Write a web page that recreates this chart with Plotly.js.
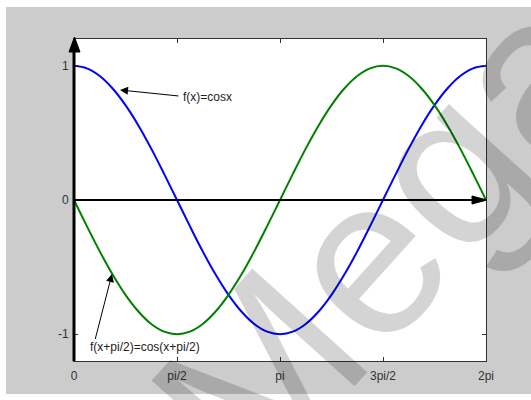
<!DOCTYPE html>
<html>
<head>
<meta charset="utf-8">
<script src="https://cdn.plot.ly/plotly-3.0.1.min.js"></script>
<style>html,body{margin:0;padding:0;background:#fff;}#chart{width:531px;height:400px;}</style>
</head>
<body>
<div id="chart"></div>
<script>
// sample positions (radians), read along the x axis
var xValues = [0, 0.196, 0.393, 0.589, 0.785, 0.982, 1.178, 1.374, 1.571, 1.767, 1.963, 2.160, 2.356, 2.553, 2.749, 2.945, 3.142,
  3.338, 3.534, 3.731, 3.927, 4.123, 4.320, 4.516, 4.712, 4.909, 5.105, 5.301, 5.498, 5.694, 5.890, 6.087, 6.283];
// blue curve f(x)=cosx
var cosValues = [1, 0.981, 0.924, 0.831, 0.707, 0.556, 0.383, 0.195, 0, -0.195, -0.383, -0.556, -0.707, -0.831, -0.924, -0.981, -1,
  -0.981, -0.924, -0.831, -0.707, -0.556, -0.383, -0.195, 0, 0.195, 0.383, 0.556, 0.707, 0.831, 0.924, 0.981, 1];
// green curve f(x+pi/2)=cos(x+pi/2)
var shiftedValues = [0, -0.195, -0.383, -0.556, -0.707, -0.831, -0.924, -0.981, -1, -0.981, -0.924, -0.831, -0.707, -0.556, -0.383, -0.195, 0,
  0.195, 0.383, 0.556, 0.707, 0.831, 0.924, 0.981, 1, 0.981, 0.924, 0.831, 0.707, 0.556, 0.383, 0.195, 0];
var xTickVals = [0, 1.5708, 3.1416, 4.7124, 6.2832];
var xTickText = ['0', 'pi/2', 'pi', '3pi/2', '2pi'];
var yTickVals = [-1, 0, 1];
var yTickText = ['-1', '0', '1'];
var labelCos = 'f(x)=cosx';
var labelShift = 'f(x+pi/2)=cos(x+pi/2)';
var watermark = 'Mega';

var W = 531, H = 400, L = 74, R = 45, T = 39, B = 39;
var pw = W - L - R, ph = H - T - B;
function px(x) { return (x - L) / pw; }
function py(y) { return (H - B - y) / ph; }

var traces = [
  {x: xValues, y: cosValues, type: 'scatter', mode: 'lines', line: {color: '#0000ff', width: 2, shape: 'spline'}, hoverinfo: 'skip'},
  {x: xValues, y: shiftedValues, type: 'scatter', mode: 'lines', line: {color: '#008000', width: 2, shape: 'spline'}, hoverinfo: 'skip'}
];

var shapes = [
  // white edges of the figure
  {type: 'rect', xref: 'paper', yref: 'paper', x0: px(0), x1: px(W), y0: py(7), y1: py(0), fillcolor: '#ffffff', line: {width: 0}, layer: 'above'},
  {type: 'rect', xref: 'paper', yref: 'paper', x0: px(0), x1: px(6), y0: py(H), y1: py(0), fillcolor: '#ffffff', line: {width: 0}, layer: 'above'},
  {type: 'rect', xref: 'paper', yref: 'paper', x0: px(0), x1: px(W), y0: py(H), y1: py(394), fillcolor: '#ffffff', line: {width: 0}, layer: 'above'},
  // y axis arrow
  {type: 'line', xref: 'paper', yref: 'paper', x0: 0, x1: 0, y0: 0, y1: py(50), line: {color: '#000', width: 3}, layer: 'above'},
  {type: 'path', xref: 'paper', yref: 'paper', path: 'M' + px(69) + ',' + py(52) + ' L' + px(74.5) + ',' + py(37) + ' L' + px(80) + ',' + py(52) + ' Z', fillcolor: '#000', line: {color: '#000', width: 1}, layer: 'above'},
  // x axis arrow
  {type: 'line', xref: 'paper', yref: 'paper', x0: 0, x1: px(474), y0: 0.5, y1: 0.5, line: {color: '#000', width: 2}, layer: 'above'},
  {type: 'path', xref: 'paper', yref: 'paper', path: 'M' + px(472) + ',' + py(196) + ' L' + px(487) + ',' + py(200) + ' L' + px(472) + ',' + py(204) + ' Z', fillcolor: '#000', line: {color: '#000', width: 1}, layer: 'above'}
];

var txtFont = {family: 'Liberation Sans, Arial, sans-serif', size: 12, color: '#222'};
var annotations = [
  {x: 0.7015, y: 0.82, ax: 1.601, ay: 0.775, axref: 'x', ayref: 'y', xref: 'x', yref: 'y', text: ' ', font: {size: 1},
   showarrow: true, arrowhead: 2, arrowsize: 1.6, arrowwidth: 1, arrowcolor: '#000', standoff: 0, borderpad: 0},
  {x: 1.632, y: 0.768, xref: 'x', yref: 'y', text: labelCos, showarrow: false, xanchor: 'left', yanchor: 'middle', font: txtFont},
  {x: 0.5795, y: -0.5515, ax: 0.3203, ay: -1.0435, axref: 'x', ayref: 'y', xref: 'x', yref: 'y', text: ' ', font: {size: 1},
   showarrow: true, arrowhead: 2, arrowsize: 1.6, arrowwidth: 1, arrowcolor: '#000', standoff: 0, borderpad: 0},
  {x: 0.2135, y: -1.0956, xref: 'x', yref: 'y', text: labelShift, showarrow: false, xanchor: 'left', yanchor: 'middle', font: txtFont},
  // watermark
  {x: px(385), y: py(236), xref: 'paper', yref: 'paper', text: watermark, showarrow: false, textangle: -48,
   font: {family: 'Liberation Sans, Arial, sans-serif', size: 225, color: 'rgba(0,0,0,0.17)'}, xanchor: 'center', yanchor: 'middle'}
];

var axisCommon = {
  showgrid: false, zeroline: false, showline: true, linecolor: '#333', linewidth: 1, mirror: 'ticks',
  ticks: 'inside', ticklen: 4, tickcolor: '#333', tickwidth: 1,
  tickfont: {family: 'Liberation Sans, Arial, sans-serif', size: 12, color: '#333'}, fixedrange: true
};

var layout = {
  width: W, height: H,
  margin: {l: L, r: R, t: T, b: B, pad: 0},
  paper_bgcolor: '#cccccc', plot_bgcolor: '#ffffff',
  showlegend: false,
  xaxis: Object.assign({}, axisCommon, {range: [0, 6.2832], tickmode: 'array', tickvals: xTickVals, ticktext: xTickText, ticklabelstandoff: 4}),
  yaxis: Object.assign({}, axisCommon, {range: [-1.2, 1.2], tickmode: 'array', tickvals: yTickVals, ticktext: yTickText, ticklabelstandoff: 2}),
  shapes: shapes,
  annotations: annotations
};

Plotly.newPlot('chart', traces, layout, {staticPlot: true, displayModeBar: false});
</script>
</body>
</html>
